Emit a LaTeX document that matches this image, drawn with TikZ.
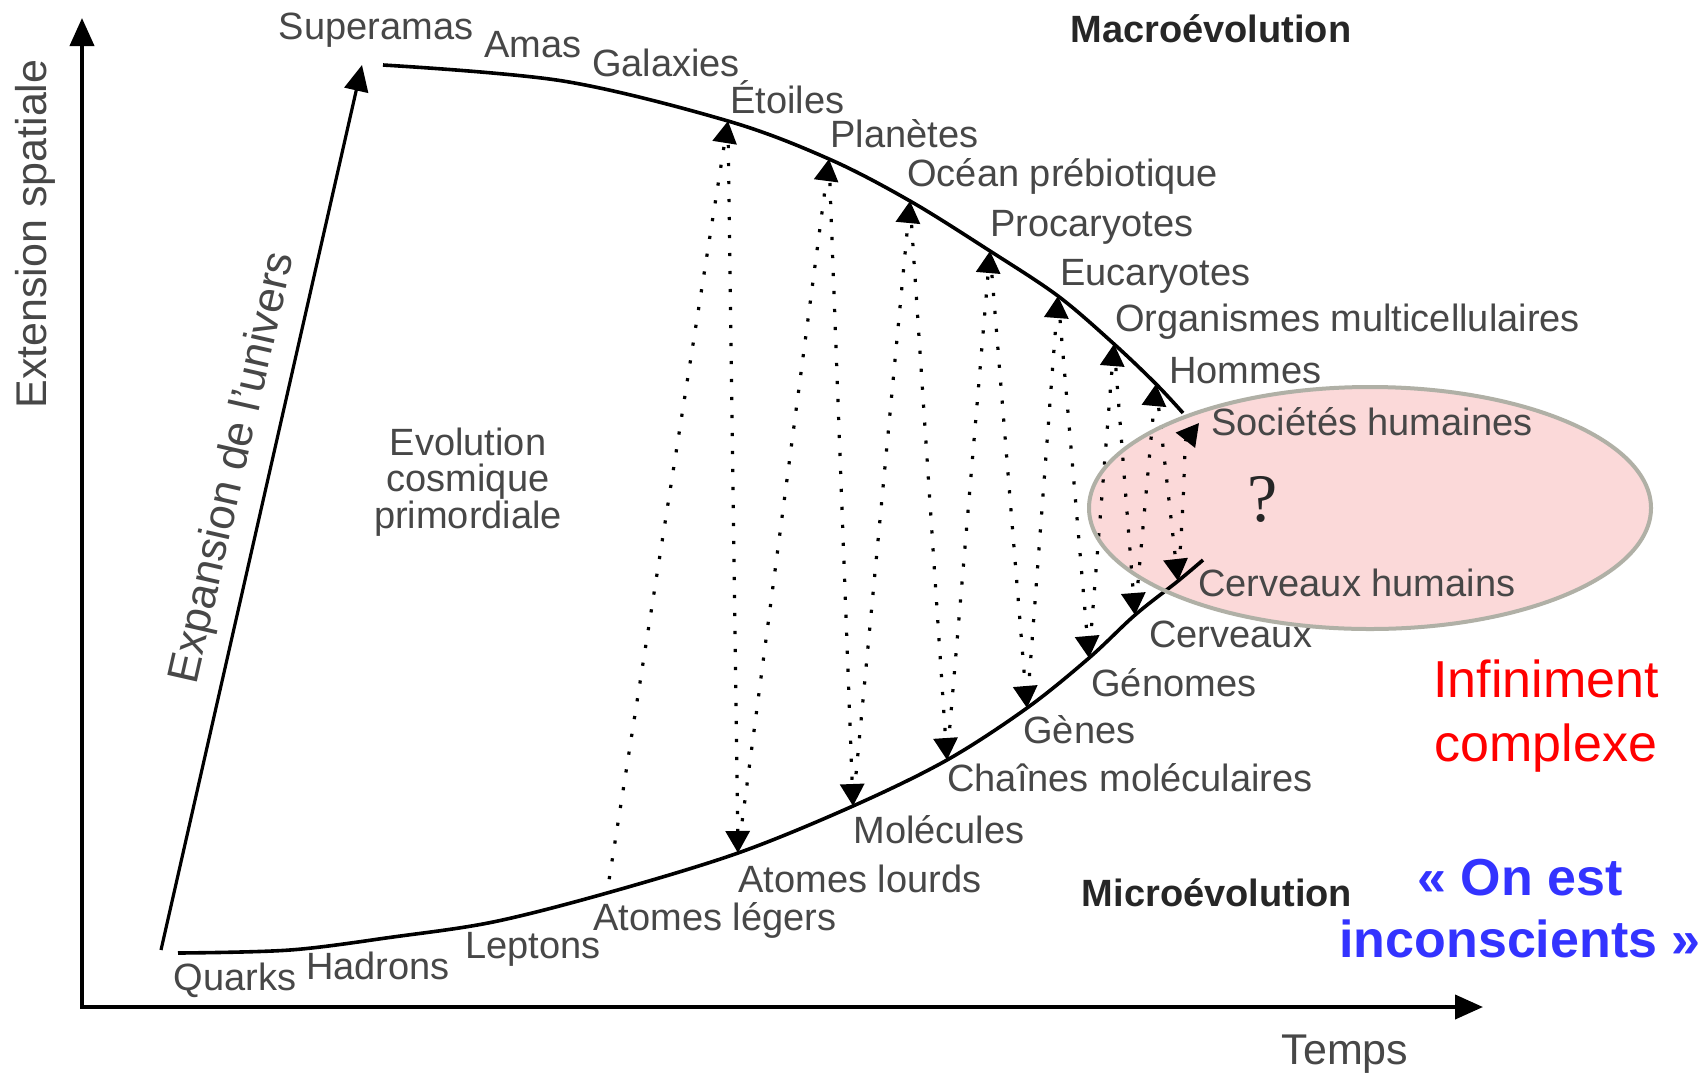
\documentclass[tikz,border=0pt]{standalone}
\usepackage{fontspec}
\setmainfont{Liberation Sans}
\newfontfamily\qserif{Liberation Serif}
\usetikzlibrary{arrows.meta}
\definecolor{ink}{gray}{0.28}
\definecolor{pinkfill}{RGB}{251,217,217}
\definecolor{ellborder}{RGB}{176,176,166}
\definecolor{qblue}{RGB}{51,51,255}
\definecolor{qred}{RGB}{255,0,0}
\begin{document}
\begin{tikzpicture}[x=0.5pt,y=-0.5pt,
  lbl/.style={text=ink,font=\fontsize{19}{22}\selectfont,inner sep=0pt},
  bold lbl/.style={text=black!85,font=\fontsize{19}{22}\selectfont\bfseries,inner sep=0pt},
  big lbl/.style={text=ink,font=\fontsize{21.5}{24}\selectfont,inner sep=0pt},
  curve/.style={line width=1.8pt,black},
  dotline/.style={line width=1.6pt,dash pattern=on 1.6pt off 7.4pt,black,
     -{Triangle[length=11pt,width=12pt]},shorten <=7pt},
  axisline/.style={line width=2pt,black,-{Triangle[length=14pt,width=12pt]}},
]
\useasboundingbox (0,0) rectangle (1707,1077);
\fill[white] (0,0) rectangle (1707,1077);

% ellipse fill (behind)
\coordinate (ellc) at (1370,508);
\fill[pinkfill] (ellc) ellipse [x radius=140.5pt, y radius=60.5pt];

% axes
\coordinate (O) at (80,1007);
\coordinate (Ytop) at (82,18);
\coordinate (Xend) at (1483,1007);
\draw[axisline] (82,1008) -- (Ytop);
\draw[axisline] (O) -- (Xend);
\node[big lbl,rotate=90] (yl) at (35,234) {Extension spatiale};
\node[big lbl] (xl) at (1345,1054) {Temps};

% expansion arrow
\coordinate (q0) at (161,950);
\coordinate (s0) at (362,65);
\draw[line width=1.6pt,-{Triangle[length=13pt,width=12pt]}] (q0) -- (s0);
\node[text=ink,font=\fontsize{22}{24}\selectfont,inner sep=0pt,rotate=77.2] (exp) at (234,468) {Expansion de l'univers};

% upper curve points
\coordinate (u0) at (383,65);
\coordinate (u1) at (563,81);
\coordinate (Et) at (728,121);
\coordinate (Pl) at (829,159);
\coordinate (Oc) at (910,201);
\coordinate (Pr) at (990,251);
\coordinate (Eu) at (1058,296);
\coordinate (Or) at (1114,344);
\coordinate (Ho) at (1156,384);
\coordinate (uend) at (1183,413);
\coordinate (So) at (1199,423);
\draw[curve] plot[smooth,tension=0.55] coordinates {(u0) (u1) (Et) (Pl) (Oc) (Pr) (Eu) (Or) (Ho) (uend)};

% lower curve points
\coordinate (l0) at (178,953);
\coordinate (l1) at (290,950);
\coordinate (l2) at (393,937);
\coordinate (l3) at (493,922);
\coordinate (AL) at (607,893);
\coordinate (ALo) at (738,853);
\coordinate (Mol) at (853,806);
\coordinate (Ch) at (947,760);
\coordinate (Ge) at (1027,708);
\coordinate (Gn) at (1089,658);
\coordinate (Ce) at (1135,615);
\coordinate (CH) at (1178,581);
\coordinate (lend) at (1203,560);
\draw[curve] plot[smooth,tension=0.55] coordinates {(l0) (l1) (l2) (l3) (AL) (ALo) (Mol) (Ch) (Ge) (Gn) (Ce) (CH) (lend)};

% dotted arrows: lower -> upper
\draw[dotline] (AL) -- (Et);
\draw[dotline] (ALo) -- (Pl);
\draw[dotline] (Mol) -- (Oc);
\draw[dotline] (Ch) -- (Pr);
\draw[dotline] (Ge) -- (Eu);
\draw[dotline] (Gn) -- (Or);
\draw[dotline] (Ce) -- (Ho);
\draw[dotline] (CH) .. controls (1186,470) and (1184,442) .. (So);
% dotted arrows: upper -> lower
\draw[dotline,shorten <=12pt] (Et) -- (ALo);
\draw[dotline,shorten <=12pt] (Pl) -- (Mol);
\draw[dotline,shorten <=12pt] (Oc) -- (Ch);
\draw[dotline,shorten <=12pt] (Pr) -- (Ge);
\draw[dotline,shorten <=12pt] (Eu) -- (Gn);
\draw[dotline,shorten <=12pt] (Or) -- (Ce);
\draw[dotline,shorten <=12pt] (Ho) -- (CH);

% upper labels
\node[lbl] (sup) at (376,30) {Superamas};
\node[lbl] (ama) at (533,45) {Amas};
\node[lbl] (gal) at (666,63) {Galaxies};
\node[lbl,anchor=west] (eto) at (730,97) {Étoiles};
\node[lbl,anchor=west] (pla) at (830,134) {Planètes};
\node[lbl,anchor=west] (oce) at (907,176) {Océan prébiotique};
\node[lbl,anchor=west] (pro) at (990,227) {Procaryotes};
\node[lbl,anchor=west] (euc) at (1060,276) {Eucaryotes};
\node[lbl,anchor=west] (org) at (1115,322) {Organismes multicellulaires};
\node[lbl,anchor=west] (hom) at (1169,371) {Hommes};
\node[lbl,anchor=west] (soc) at (1211,422) {Sociétés humaines};
\node[bold lbl] (macro) at (1211,29) {Macroévolution};

% lower labels
\node[lbl] (qua) at (235,980) {Quarks};
\node[lbl] (had) at (378,966) {Hadrons};
\node[lbl] (lep) at (533,949) {Leptons};
\node[lbl,anchor=west] (atl) at (593,920) {Atomes légers};
\node[lbl,anchor=west] (atL) at (738,879) {Atomes lourds};
\node[lbl,anchor=west] (mol) at (853,830) {Molécules};
\node[lbl,anchor=west] (cha) at (947,778) {Chaînes moléculaires};
\node[lbl,anchor=west] (gen) at (1023,730) {Gènes};
\node[lbl,anchor=west] (gno) at (1091,683) {Génomes};
\node[lbl,anchor=west] (cer) at (1149,634) {Cerveaux};
\node[lbl,anchor=west] (ceh) at (1198,583) {Cerveaux humains};
\node[bold lbl] (micro) at (1217,893) {Microévolution};

% central text
\node[lbl,align=center,font=\fontsize{19}{18.3}\selectfont] (evo) at (468,482) {Evolution\\cosmique\\primordiale};

% ellipse border on top
\draw[ellborder,line width=2pt] (ellc) ellipse [x radius=140.5pt, y radius=60.5pt];
\node[text=black!85,font=\qserif\fontsize{34}{36}\selectfont,inner sep=0pt] (qm) at (1263,499) {?};

% side texts
\node[text=qred,font=\fontsize{26}{32}\selectfont,align=center,inner sep=0pt] (inf) at (1546,716) {Infiniment\\complexe};
\node[text=qblue,font=\fontsize{26}{31}\selectfont\bfseries,align=center,inner sep=0pt] (cons) at (1520,909) {«~On est\\inconscients~»};
\end{tikzpicture}
\end{document}
